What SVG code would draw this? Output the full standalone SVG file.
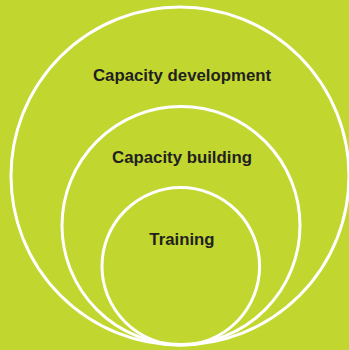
<svg xmlns="http://www.w3.org/2000/svg" width="349" height="350" viewBox="0 0 349 350">
<style>
.ring{fill:none;stroke:#ffffff;stroke-width:3}
.lbl{font-family:"Liberation Sans",Arial,sans-serif;font-weight:bold;font-size:16.8px;fill:#231f20;text-anchor:middle}
</style>
<rect width="349" height="350" fill="#c1d72f"/>
<g id="capacity-development">
<circle class="ring" cx="180" cy="176" r="169"/>
<text class="lbl" x="182" y="81">Capacity development</text>
</g>
<g id="capacity-building">
<circle class="ring" cx="181" cy="225.5" r="119"/>
<text class="lbl" x="182" y="163">Capacity building</text>
</g>
<g id="training">
<circle class="ring" cx="180.8" cy="266.3" r="78.8"/>
<text class="lbl" x="182" y="245">Training</text>
</g>
<g id="connectors"/>
</svg>
